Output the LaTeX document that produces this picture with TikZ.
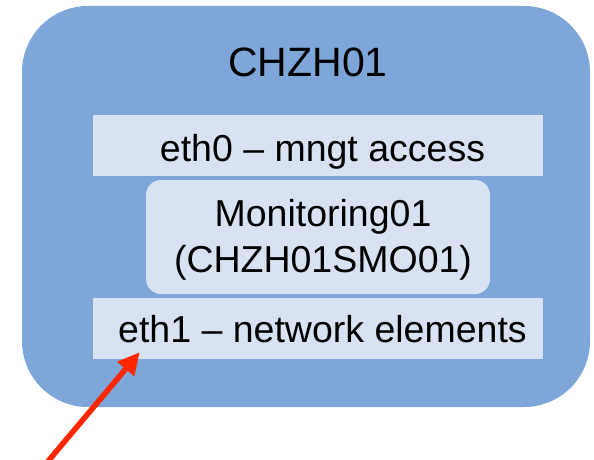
\documentclass[tikz,border=0pt]{standalone}
\usepackage{fontspec}
\setmainfont{Liberation Sans}
\usetikzlibrary{arrows.meta}
\definecolor{hostblue}{RGB}{126,166,216}
\definecolor{barfill}{RGB}{217,226,242}
\definecolor{pointer}{RGB}{255,38,0}
\begin{document}
\begin{tikzpicture}[x=1pt,y=-1pt,
  hostbox/.style={fill=hostblue,draw=none,rounded corners=66pt,
    minimum width=568pt,minimum height=401pt,inner sep=0pt},
  ifbar/.style={fill=barfill,draw=none,minimum width=450pt,minimum height=61pt,
    inner sep=0pt},
  bartext/.style={font=\fontsize{37.5}{46}\selectfont,inner sep=0pt,anchor=base},
  vmbox/.style={fill=barfill,draw=none,rounded corners=15pt,minimum width=344pt,
    minimum height=114pt,inner sep=0pt},
  vmtext/.style={font=\fontsize{37.5}{46}\selectfont,inner sep=0pt,align=center},
  titletext/.style={font=\fontsize{41}{48}\selectfont,inner sep=0pt},
  pointerarrow/.style={draw=pointer,line width=5.5pt,
    -{Triangle[length=22pt,width=21pt]}}]
  \useasboundingbox (0,0) rectangle (594,460);
  % host frame and title
  \node[hostbox] (host) at (306,206.5) {};
  \node[titletext,anchor=base] (title) at (308,76) {CHZH01};
  % interfaces and guest VM
  \node[ifbar] (eth0) at (318,145.5) {};
  \node[bartext] (eth0label) at (322.5,161) {eth0 – mngt access};
  \node[vmbox] (vm) at (318,237) {};
  \node[vmtext] (vmlabel) at (323,240) {Monitoring01\\ (CHZH01SMO01)};
  \node[ifbar] (eth1) at (318,328.5) {};
  \node[bartext] (eth1label) at (322.5,342) {eth1 – network elements};
  % pointer towards eth1
  \coordinate (tail) at (44,466);
  \coordinate (tip) at ([xshift=47pt,yshift=7pt]eth1.south west);
  \draw[pointerarrow] (tail) -- (tip);
\end{tikzpicture}
\end{document}
